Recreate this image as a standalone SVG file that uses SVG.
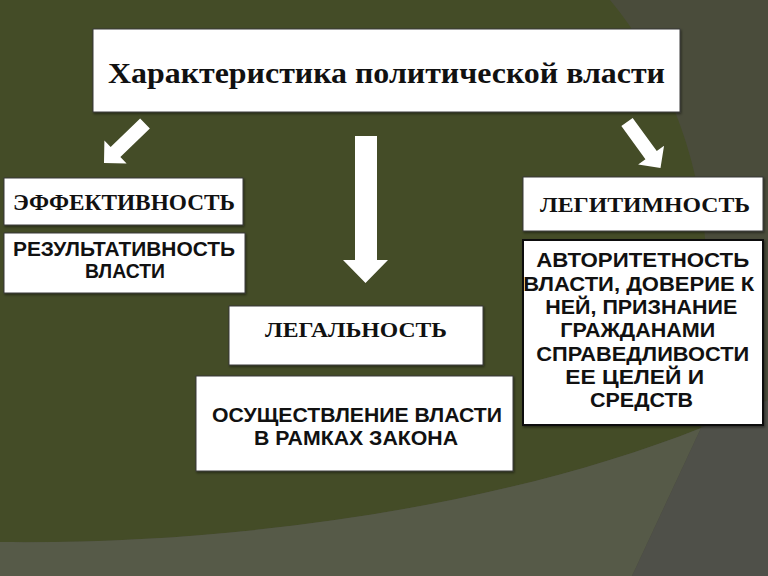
<svg xmlns="http://www.w3.org/2000/svg" width="768" height="576" viewBox="0 0 768 576">
<style>
.box{fill:#ffffff;stroke:#3a3a3a;stroke-width:1}
.serif{font-family:"Liberation Serif","Times New Roman",serif;font-weight:bold;fill:#111}
.sans{font-family:"Liberation Sans",Arial,sans-serif;font-weight:bold;fill:#111}
.arrow{fill:#ffffff}
</style>
<defs>
<filter id="sh" x="-5%" y="-5%" width="115%" height="115%">
<feDropShadow dx="1" dy="1.5" stdDeviation="1" flood-color="#000" flood-opacity="0.45"/>
</filter>
</defs>
<g id="background">
<rect x="0" y="0" width="768" height="576" fill="#4a4c3b"/>
<path d="M0,0 L610,0 C660,60 700,150 706,250 C712,330 708,390 701,428 C520,500 260,545 0,542 Z" fill="#444c27"/>
<path d="M0,542 C260,545 520,500 701,428 L632,576 L0,576 Z" fill="#565a48"/>
<path d="M701,428 L768,400 L768,576 L632,576 Z" fill="#4f5049"/>
</g>
<g id="connectors">
<polygon class="arrow" transform="translate(145,123.5) rotate(136)" points="0,-7 41,-7 41,-16 57,0 41,16 41,7 0,7"/>
<polygon class="arrow" points="355,136 377,136 377,260 388,260 365.5,283 343,260 355,260"/>
<polygon class="arrow" transform="translate(627,122) rotate(54)" points="0,-7 41,-7 41,-16 57,0 41,16 41,7 0,7"/>
</g>
<g id="title">
<rect class="box" x="93" y="29" width="587" height="83" filter="url(#sh)"/>
<text class="serif" x="386.5" y="83" font-size="30" text-anchor="middle" textLength="557" lengthAdjust="spacingAndGlyphs">Характеристика политической власти</text>
</g>
<g id="effectiveness">
<rect class="box" x="4" y="178" width="239" height="47" filter="url(#sh)"/>
<text class="serif" x="124" y="210" font-size="24" text-anchor="middle" textLength="222" lengthAdjust="spacingAndGlyphs">ЭФФЕКТИВНОСТЬ</text>
</g>
<g id="result">
<rect class="box" x="4" y="233" width="241" height="60" filter="url(#sh)"/>
<text class="sans" font-size="21" text-anchor="middle"><tspan x="124" y="256" textLength="222" lengthAdjust="spacingAndGlyphs">РЕЗУЛЬТАТИВНОСТЬ</tspan><tspan x="125" y="278" textLength="80" lengthAdjust="spacingAndGlyphs">ВЛАСТИ</tspan></text>
</g>
<g id="legality">
<rect class="box" x="229" y="306" width="254" height="59" filter="url(#sh)"/>
<text class="serif" x="356" y="337" font-size="22" text-anchor="middle" textLength="182" lengthAdjust="spacingAndGlyphs">ЛЕГАЛЬНОСТЬ</text>
</g>
<g id="law">
<rect class="box" x="196" y="376" width="317" height="95" filter="url(#sh)"/>
<text class="sans" font-size="20" text-anchor="middle"><tspan x="357" y="422" textLength="290" lengthAdjust="spacingAndGlyphs">ОСУЩЕСТВЛЕНИЕ ВЛАСТИ</tspan><tspan x="356" y="445" textLength="204" lengthAdjust="spacingAndGlyphs">В РАМКАХ ЗАКОНА</tspan></text>
</g>
<g id="legitimacy">
<rect class="box" x="523" y="177" width="240" height="54" filter="url(#sh)"/>
<text class="serif" x="645" y="212" font-size="22" text-anchor="middle" textLength="210" lengthAdjust="spacingAndGlyphs">ЛЕГИТИМНОСТЬ</text>
</g>
<g id="authority">
<rect x="523" y="240" width="240" height="185" fill="#ffffff" stroke="#111" stroke-width="2" filter="url(#sh)"/>
<text class="sans" font-size="20" text-anchor="middle" lengthAdjust="spacingAndGlyphs">
<tspan x="645.5" y="267" textLength="213" lengthAdjust="spacingAndGlyphs">АВТОРИТЕТНОСТЬ</tspan>
<tspan x="641.5" y="290.5" textLength="231" lengthAdjust="spacingAndGlyphs">ВЛАСТИ, ДОВЕРИЕ К</tspan>
<tspan x="644" y="314" textLength="192" lengthAdjust="spacingAndGlyphs">НЕЙ, ПРИЗНАНИЕ</tspan>
<tspan x="640.5" y="337" textLength="155" lengthAdjust="spacingAndGlyphs">ГРАЖДАНАМИ</tspan>
<tspan x="645.5" y="360.5" textLength="213" lengthAdjust="spacingAndGlyphs">СПРАВЕДЛИВОСТИ</tspan>
<tspan x="637.5" y="384" textLength="139" lengthAdjust="spacingAndGlyphs">ЕЕ ЦЕЛЕЙ И</tspan>
<tspan x="641.5" y="407" textLength="103" lengthAdjust="spacingAndGlyphs">СРЕДСТВ</tspan>
</text>
</g>
</svg>
